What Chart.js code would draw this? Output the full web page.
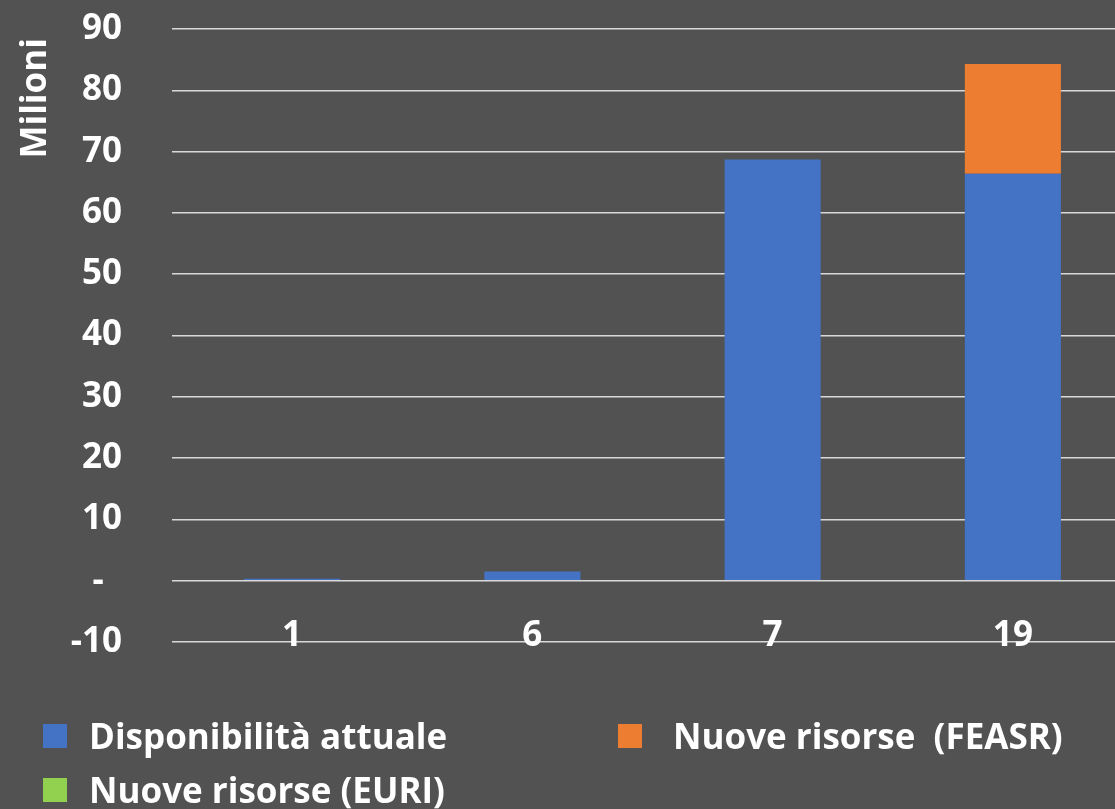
<!DOCTYPE html>
<html>
<head>
<meta charset="utf-8">
<script src="https://cdn.jsdelivr.net/npm/chart.js@4"></script>
<style>
    html, body { margin: 0; padding: 0; background: #525252; overflow: hidden; }
    #wrap { position: relative; width: 1133px; height: 809px; }
    #legend { position: absolute; left: 0; top: 0; font-family: "Open Sans", sans-serif; font-weight: bold; font-size: 35px; color: #fff; }
    .item { position: absolute; white-space: pre; line-height: 1; }
    .box { position: absolute; width: 24px; height: 24px; }
</style>
</head>
<body>
<div id="wrap">
    <canvas id="chart" width="1133" height="809"></canvas>
    <div id="legend"></div>
</div>
<script>
const categories = ["1", "6", "7", "19"];
const disponibilita = [0.3, 1.5, 68.7, 66.4];
const nuoveFeasr = [0, 0, 0, 17.9];
const nuoveEuri = [0, 0, 0, 0];
const seriesNames = ["Disponibilità attuale", "Nuove risorse  (FEASR)", "Nuove risorse (EURI)"];
const seriesColors = ["#4472C4", "#ED7D31", "#92D050"];
const yTicks = [-10, 0, 10, 20, 30, 40, 50, 60, 70, 80, 90];

const font = { family: "'Open Sans', sans-serif", weight: "bold", size: 35 };

const chart = new Chart(document.getElementById("chart"), {
    type: "bar",
    data: {
        labels: categories,
        datasets: [disponibilita, nuoveFeasr, nuoveEuri].map((d, i) => ({
            label: seriesNames[i],
            data: d,
            backgroundColor: seriesColors[i],
            categoryPercentage: 0.4,
            barPercentage: 1
        }))
    },
    options: {
        responsive: false,
        animation: false,
        layout: { padding: { top: 29, right: 0, bottom: 0, left: 0 } },
        plugins: { legend: { display: false }, tooltip: { enabled: false } },
        scales: {
            x: {
                stacked: true,
                grid: { display: false, drawTicks: false },
                border: { display: false },
                // mirrored so the labels sit on the -10 line like the original
                ticks: { color: "#fff", font: font, mirror: true, padding: -15, maxRotation: 0 },
                afterFit: scale => {
                    scale.height = 167;
                    scale.paddingTop = 0;
                    scale.paddingBottom = 0;
                }
            },
            y: {
                stacked: true,
                min: yTicks[0],
                max: yTicks[yTicks.length - 1],
                afterBuildTicks: scale => { scale.ticks = yTicks.map(v => ({ value: v })); },
                grid: { color: "#d9d9d9", lineWidth: 1.5, drawTicks: false },
                border: { display: false },
                ticks: {
                    color: "#fff",
                    font: font,
                    padding: 50,
                    callback: v => v === 0 ? "-  " : v
                },
                title: {
                    display: true,
                    text: "Milioni ",
                    align: "end",
                    color: "#fff",
                    font: font,
                    padding: { top: 15, bottom: 0 }
                },
                afterFit: scale => {
                    scale.width = 172;
                    scale.paddingTop = 0;
                    scale.paddingBottom = 0;
                }
            }
        }
    }
});

// legend laid out in two columns like the original
const legendBox = [[43, 724], [618, 724], [43, 778]];
const legendTextX = [89, 673, 89];
const legend = document.getElementById("legend");
chart.data.datasets.forEach((ds, i) => {
    const [x, y] = legendBox[i];
    const box = document.createElement("div");
    box.className = "box";
    box.style.left = x + "px";
    box.style.top = y + "px";
    box.style.background = ds.backgroundColor;
    legend.appendChild(box);
    const txt = document.createElement("div");
    txt.className = "item";
    txt.style.left = legendTextX[i] + "px";
    txt.style.top = (y - 6) + "px";
    txt.textContent = ds.label;
    legend.appendChild(txt);
});
</script>
</body>
</html>
